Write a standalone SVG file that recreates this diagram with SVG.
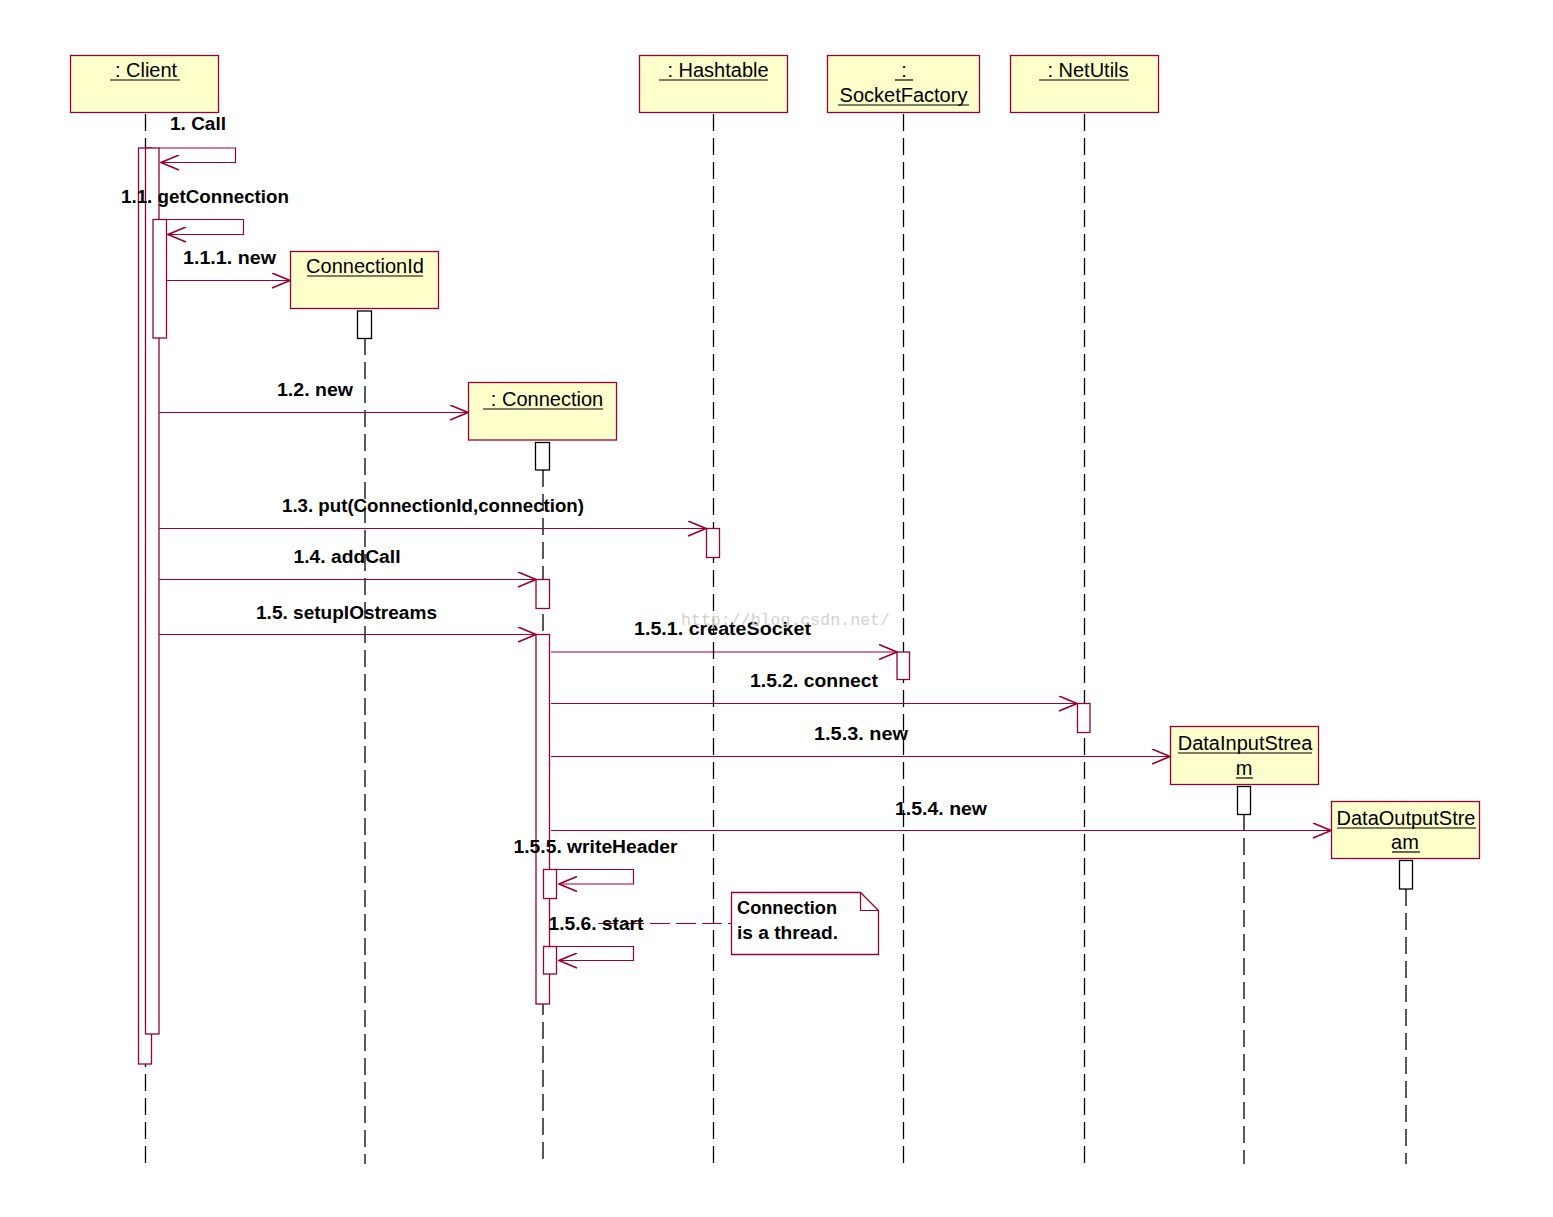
<svg xmlns="http://www.w3.org/2000/svg" width="1553" height="1217" viewBox="0 0 1553 1217">
<style>
.bg{fill:#ffffff}
.obj{fill:#ffffcc;stroke:#990033;stroke-width:1.3}
.life{stroke:#000000;stroke-width:1.3;stroke-dasharray:17 7;fill:none}
.act{fill:#ffffff;stroke:#990033;stroke-width:1.3}
.actk{fill:#ffffff;stroke:#000000;stroke-width:1.3}
.msg{fill:none;stroke:#990033;stroke-width:1.2;marker-end:url(#arr)}
.ul{stroke:#000000;stroke-width:1.2}
.name{font-family:"Liberation Sans",Arial,sans-serif;font-size:20px;fill:#000000}
.lbl{font-family:"Liberation Sans",Arial,sans-serif;font-size:18px;font-weight:bold;fill:#000000}
.note{fill:#ffffff;stroke:#990033;stroke-width:1.3}
.anchor{fill:none;stroke:#990033;stroke-width:1.2;stroke-dasharray:20 6}
.wm{font-family:"Liberation Mono","DejaVu Sans Mono",monospace;font-size:17px;fill:#d2d2d2}
</style>
<defs>
<marker id="arr" viewBox="0 0 20 16" refX="19" refY="8" markerWidth="20" markerHeight="16" markerUnits="userSpaceOnUse" orient="auto">
<path d="M1,0.5 L19,8 L1,15.5" fill="none" stroke="#990033" stroke-width="1.6"/>
</marker>
</defs>
<rect class="bg" x="0" y="0" width="1553" height="1217"/>

<g id="lifelines">
<line class="life" x1="145.5" y1="114" x2="145.5" y2="1164"/>
<line class="life" x1="365" y1="338" x2="365" y2="1164"/>
<line class="life" x1="543" y1="470" x2="543" y2="1164"/>
<line class="life" x1="713.5" y1="114" x2="713.5" y2="1164"/>
<line class="life" x1="903.5" y1="114" x2="903.5" y2="1164"/>
<line class="life" x1="1084.5" y1="114" x2="1084.5" y2="1164"/>
<line class="life" x1="1244" y1="814" x2="1244" y2="1164"/>
<line class="life" x1="1406" y1="889" x2="1406" y2="1164"/>
</g>

<g id="node-client">
<rect class="obj" x="70.5" y="55.5" width="148" height="57"/>
<text class="name" x="146" y="77" text-anchor="middle">: Client</text>
<line class="ul" x1="110" y1="80" x2="180" y2="80"/>
<rect class="act" x="138.5" y="148" width="13" height="916"/>
<rect class="act" x="145.5" y="148" width="13.5" height="886"/>
<rect class="act" x="153" y="219.5" width="13.5" height="118.5"/>
</g>

<g id="node-connectionid">
<rect class="obj" x="290.5" y="251.5" width="148" height="57"/>
<text class="name" x="365" y="273" text-anchor="middle">ConnectionId</text>
<line class="ul" x1="307" y1="276" x2="423" y2="276"/>
<rect class="actk" x="357.5" y="311" width="14" height="27.5"/>
</g>

<g id="node-connection">
<rect class="obj" x="468.5" y="382.5" width="148" height="57.5"/>
<text class="name" x="547" y="406" text-anchor="middle">: Connection</text>
<line class="ul" x1="483" y1="409" x2="603" y2="409"/>
<rect class="actk" x="535.5" y="442.5" width="14" height="27.5"/>
<rect class="act" x="536" y="579.5" width="13.5" height="29"/>
<rect class="act" x="536" y="634.5" width="13.5" height="369.5"/>
<rect class="act" x="543.5" y="869.5" width="13" height="29"/>
<rect class="act" x="543.5" y="946.5" width="13" height="27.5"/>
</g>

<g id="node-hashtable">
<rect class="obj" x="639.5" y="55.5" width="148" height="57"/>
<text class="name" x="718" y="77" text-anchor="middle">: Hashtable</text>
<line class="ul" x1="659" y1="80" x2="768" y2="80"/>
<rect class="act" x="706.5" y="528.5" width="13" height="29"/>
</g>

<g id="node-socketfactory">
<rect class="obj" x="827.5" y="55.5" width="152" height="57"/>
<text class="name" x="904" y="77" text-anchor="middle">:</text>
<line class="ul" x1="895" y1="80" x2="913" y2="80"/>
<text class="name" x="903.5" y="102" text-anchor="middle">SocketFactory</text>
<line class="ul" x1="838" y1="105" x2="969" y2="105"/>
<rect class="act" x="897" y="652" width="12.5" height="27.5"/>
</g>

<g id="node-netutils">
<rect class="obj" x="1010.5" y="55.5" width="148" height="57"/>
<text class="name" x="1088" y="77" text-anchor="middle">: NetUtils</text>
<line class="ul" x1="1039" y1="80" x2="1129" y2="80"/>
<rect class="act" x="1077.5" y="703.5" width="12.5" height="29"/>
</g>

<g id="node-datainputstream">
<rect class="obj" x="1170.5" y="726.5" width="148" height="58"/>
<text class="name" x="1245" y="750" text-anchor="middle">DataInputStrea</text>
<line class="ul" x1="1178" y1="753" x2="1312" y2="753"/>
<text class="name" x="1244" y="775" text-anchor="middle">m</text>
<line class="ul" x1="1236" y1="778" x2="1253" y2="778"/>
<rect class="actk" x="1237.5" y="786.5" width="13" height="28"/>
</g>

<g id="node-dataoutputstream">
<rect class="obj" x="1331.5" y="801.5" width="148" height="57"/>
<text class="name" x="1406" y="825" text-anchor="middle">DataOutputStre</text>
<line class="ul" x1="1337" y1="828" x2="1476" y2="828"/>
<text class="name" x="1405" y="849" text-anchor="middle">am</text>
<line class="ul" x1="1392" y1="852" x2="1420" y2="852"/>
<rect class="actk" x="1399.5" y="860.5" width="13" height="28.5"/>
</g>

<g id="connectors">
<path class="msg" d="M159,148 H235.5 V162.5 H161"/>
<path class="msg" d="M166.5,219.5 H243.5 V234.5 H168"/>
<path class="msg" d="M166.5,280.5 H290"/>
<path class="msg" d="M159,412.5 H468"/>
<path class="msg" d="M159,528.5 H706"/>
<path class="msg" d="M159,579.5 H536"/>
<path class="msg" d="M159,634.5 H536"/>
<path class="msg" d="M551,652 H897"/>
<path class="msg" d="M551,703.5 H1077"/>
<path class="msg" d="M551,756.5 H1170"/>
<path class="msg" d="M551,830.5 H1331"/>
<path class="msg" d="M556.5,869.5 H633.5 V884 H559"/>
<path class="msg" d="M556.5,946.5 H633.5 V960.5 H559"/>
<path class="anchor" d="M598,923.5 H731"/>
</g>

<g id="labels">
<text class="lbl" x="170" y="130" textLength="56" lengthAdjust="spacingAndGlyphs">1. Call</text>
<text class="lbl" x="121" y="202.5" textLength="168" lengthAdjust="spacingAndGlyphs">1.1. getConnection</text>
<text class="lbl" x="183" y="263.5" textLength="93" lengthAdjust="spacingAndGlyphs">1.1.1. new</text>
<text class="lbl" x="277" y="396" textLength="76" lengthAdjust="spacingAndGlyphs">1.2. new</text>
<text class="lbl" x="282" y="511.5" textLength="302" lengthAdjust="spacingAndGlyphs">1.3. put(ConnectionId,connection)</text>
<text class="lbl" x="293.5" y="563" textLength="107" lengthAdjust="spacingAndGlyphs">1.4. addCall</text>
<text class="lbl" x="256" y="618.5" textLength="181" lengthAdjust="spacingAndGlyphs">1.5. setupIOstreams</text>
<text class="lbl" x="634" y="635" textLength="177" lengthAdjust="spacingAndGlyphs">1.5.1. createSocket</text>
<text class="lbl" x="750" y="686.5" textLength="128" lengthAdjust="spacingAndGlyphs">1.5.2. connect</text>
<text class="lbl" x="814" y="740" textLength="94" lengthAdjust="spacingAndGlyphs">1.5.3. new</text>
<text class="lbl" x="895" y="815" textLength="92" lengthAdjust="spacingAndGlyphs">1.5.4. new</text>
<text class="lbl" x="513.5" y="852.5" textLength="164" lengthAdjust="spacingAndGlyphs">1.5.5. writeHeader</text>
<text class="lbl" x="548.5" y="929.5" textLength="95" lengthAdjust="spacingAndGlyphs">1.5.6. start</text>
</g>

<g id="note">
<path class="note" d="M731.5,892.5 H860.5 L878.5,910.5 V954.5 H731.5 Z"/>
<path fill="none" stroke="#990033" stroke-width="1.2" d="M860.5,892.5 V910.5 H878.5"/>
<text class="lbl" x="737" y="913.5" textLength="100" lengthAdjust="spacingAndGlyphs">Connection</text>
<text class="lbl" x="737" y="938.5" textLength="101" lengthAdjust="spacingAndGlyphs">is a thread.</text>
</g>

<text class="wm" x="681" y="625" textLength="209" lengthAdjust="spacingAndGlyphs">http://blog.csdn.net/</text>
</svg>
